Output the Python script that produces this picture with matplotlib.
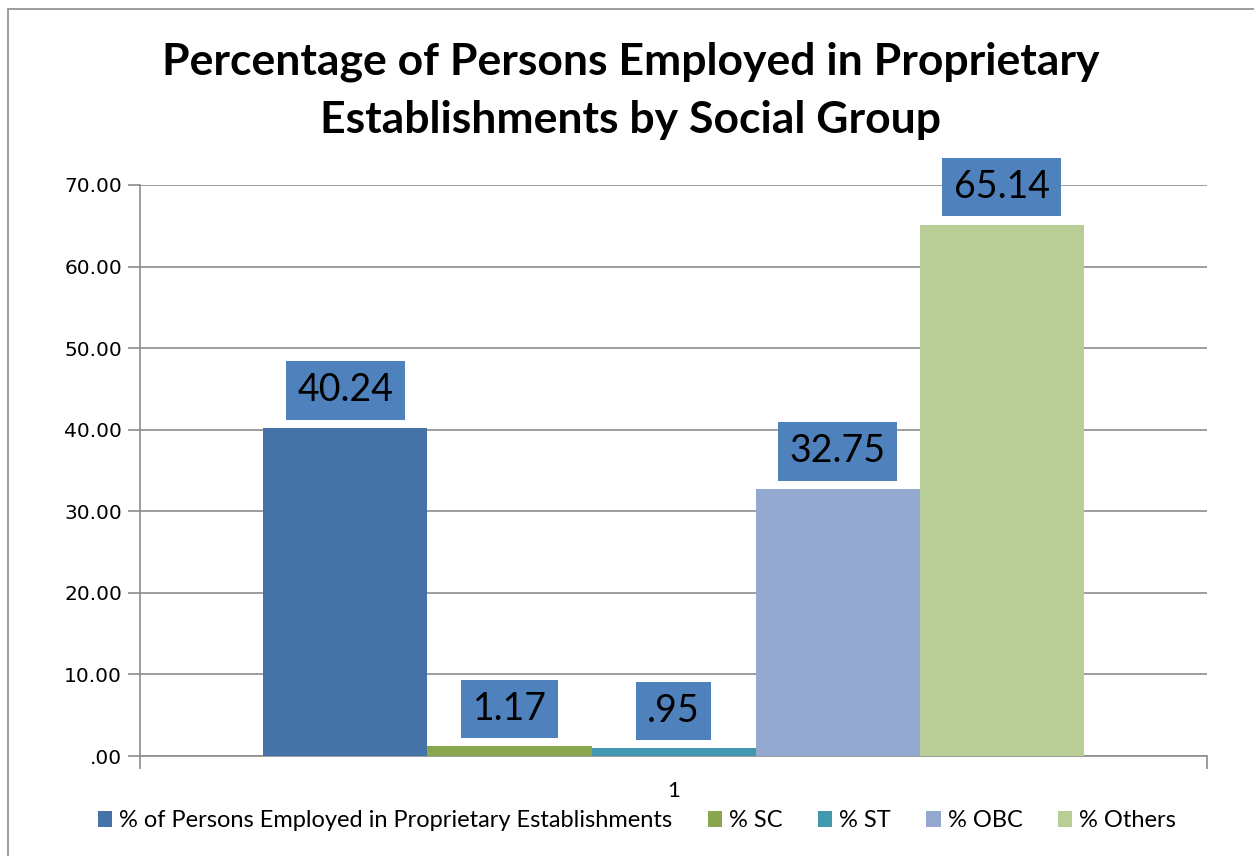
import matplotlib.pyplot as plt
from matplotlib.patches import Rectangle

# data
series = ['% of Persons Employed in Proprietary Establishments', '% SC', '% ST', '% OBC', '% Others']
values = [40.24, 1.17, 0.95, 32.75, 65.14]
labels = ['40.24', '1.17', '.95', '32.75', '65.14']
category = ['1']
colors = ['#4572A7', '#89A54E', '#4198AF', '#93A9CF', '#B9CD96']
yticks = [0, 10, 20, 30, 40, 50, 60, 70]
ytick_labels = ['.00', '10.00', '20.00', '30.00', '40.00', '50.00', '60.00', '70.00']

fig = plt.figure(figsize=(12.54, 8.56), dpi=100)
ax = fig.add_axes([0.1116, 0.1168, 0.851, 0.6671])

n = len(values)
w = 0.7685 / n
grid_c = '#8C8C8C'

for i, (s, v, c, lab) in enumerate(zip(series, values, colors, labels)):
    x = -0.7685 / 2 + w * (i + 0.5)
    ax.bar(x, v, width=w, color=c, label=s, zorder=3)
    ax.annotate(lab, (x, v), xytext=(0, 14), textcoords='offset points',
                ha='center', va='bottom', fontsize=27, family='Lato', color='black',
                bbox=dict(boxstyle='square,pad=0.3', fc='#4F81BD', ec='none'), zorder=4)

ax.set_ylim(0, 70)
ax.set_xlim(-0.5, 0.5)
ax.set_yticks(yticks)
ax.set_yticklabels(ytick_labels, fontsize=14.5, family='DejaVu Sans')
ax.yaxis.grid(True, color=grid_c, lw=1.2, zorder=0)
ax.tick_params(axis='y', length=9, color=grid_c, width=1.2, pad=4)

ax.set_xticks([-0.5, 0.5])
ax.set_xticklabels(['', ''])
ax.tick_params(axis='x', length=9, color=grid_c, width=1.2)
ax.set_xticks([0], minor=True)
ax.set_xticklabels(category, minor=True, fontsize=16, family='Lato')
ax.tick_params(axis='x', which='minor', length=0, pad=18)

for sp in ['top', 'right']:
    ax.spines[sp].set_visible(False)
for sp in ['left', 'bottom']:
    ax.spines[sp].set_color(grid_c)
    ax.spines[sp].set_linewidth(1.2)

fig.suptitle('Percentage of Persons Employed in Proprietary\nEstablishments by Social Group',
             x=0.503, y=0.952, fontsize=32, fontweight='bold', family='Lato', linespacing=1.55)

fig.legend(loc='lower center', bbox_to_anchor=(0.508, 0.004), ncol=5, frameon=False,
           prop={'family': 'Lato', 'size': 17}, handlelength=0.6, handleheight=0.7,
           handletextpad=0.3, columnspacing=1.5)

fig.patches.append(Rectangle((0.006, -0.01), 1.2, 1.0, transform=fig.transFigure,
                             fill=False, ec='#8C8C8C', lw=1.2))

fig.savefig('out.png', dpi=100)
